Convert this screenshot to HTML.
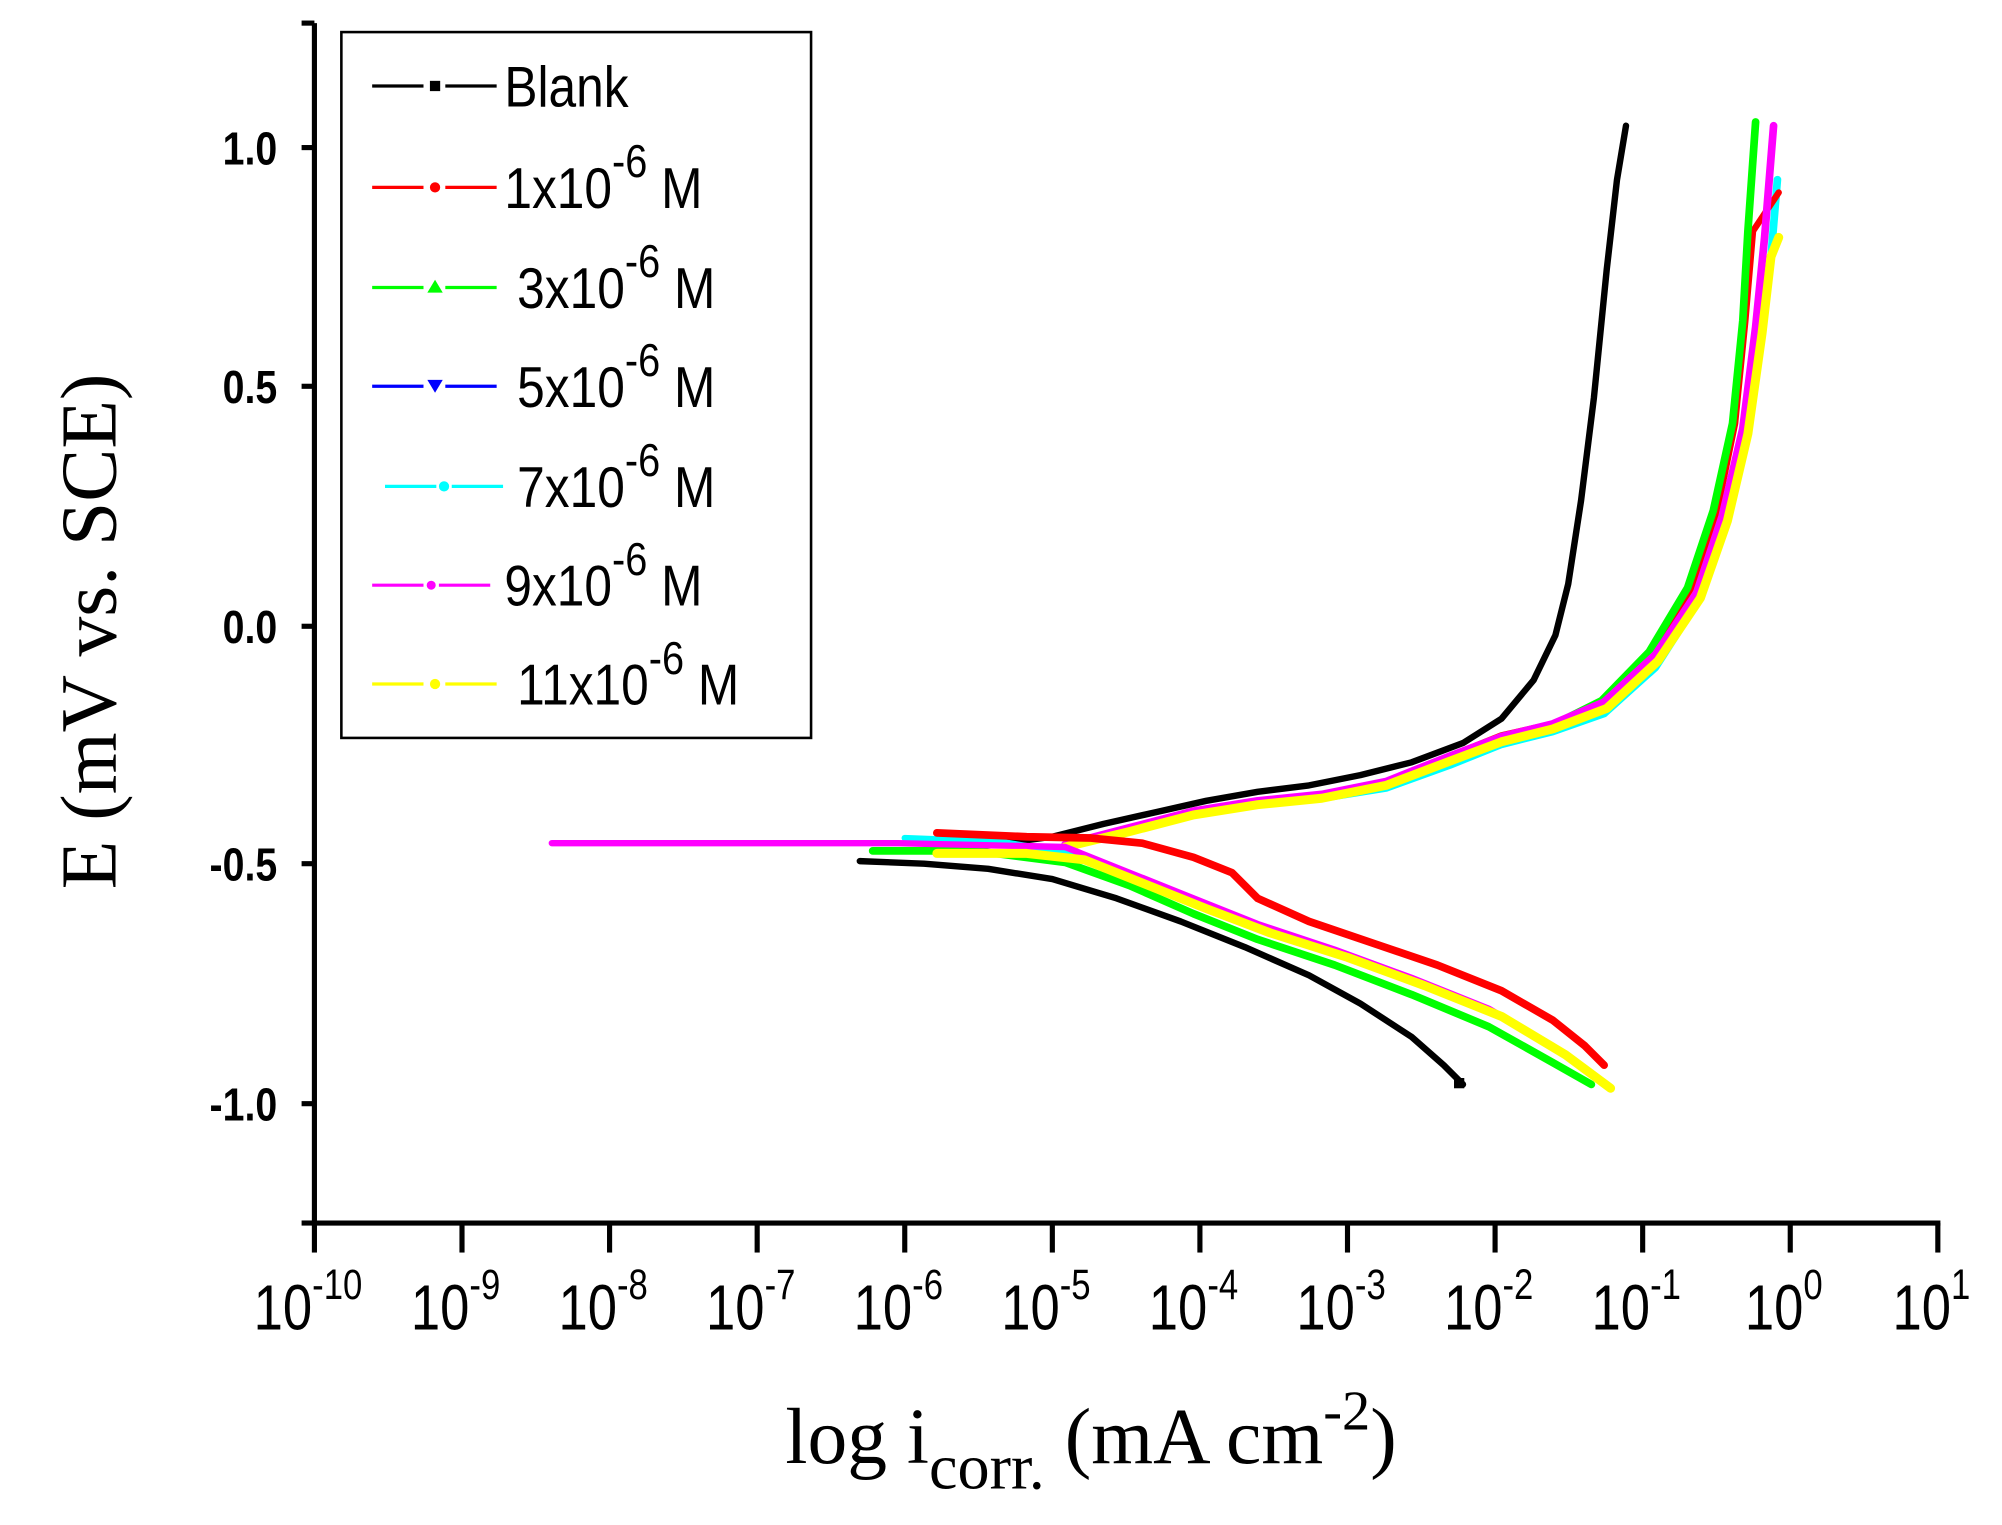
<!DOCTYPE html>
<html><head><meta charset="utf-8"><style>
html,body{margin:0;padding:0;background:#fff;}
svg{display:block;}
.t{font-family:"Liberation Sans",Arial,sans-serif;}
.tb{font-family:"Liberation Sans",Arial,sans-serif;font-weight:bold;font-size:36px;}
.s{font-family:"Liberation Serif","Times New Roman",serif;font-size:62px;}
</style></head><body>
<svg width="2002" height="1525" viewBox="0 0 1560 1188.3" preserveAspectRatio="none" xmlns="http://www.w3.org/2000/svg">
<rect width="1560" height="1189" fill="#fff"/>
<g stroke="#000" stroke-width="4" fill="none">
<line x1="245" y1="18" x2="245" y2="955"/>
<line x1="243" y1="953" x2="1512" y2="953"/>
<line x1="235" y1="18" x2="245" y2="18"/>
<line x1="235" y1="115" x2="245" y2="115"/>
<line x1="235" y1="301" x2="245" y2="301"/>
<line x1="235" y1="488" x2="245" y2="488"/>
<line x1="235" y1="673" x2="245" y2="673"/>
<line x1="235" y1="860" x2="245" y2="860"/>
<line x1="235" y1="953" x2="245" y2="953"/>
<g>
<line x1="245" y1="953" x2="245" y2="976"/><line x1="360" y1="953" x2="360" y2="976"/><line x1="475" y1="953" x2="475" y2="976"/><line x1="590" y1="953" x2="590" y2="976"/><line x1="705" y1="953" x2="705" y2="976"/><line x1="820" y1="953" x2="820" y2="976"/><line x1="935" y1="953" x2="935" y2="976"/><line x1="1050" y1="953" x2="1050" y2="976"/><line x1="1165" y1="953" x2="1165" y2="976"/><line x1="1280" y1="953" x2="1280" y2="976"/><line x1="1395" y1="953" x2="1395" y2="976"/><line x1="1510" y1="953" x2="1510" y2="976"/>
</g>
</g>
<g class="tb" text-anchor="end">
<text transform="translate(216,128) scale(0.85,1)">1.0</text>
<text transform="translate(216,314) scale(0.85,1)">0.5</text>
<text transform="translate(216,501) scale(0.85,1)">0.0</text>
<text transform="translate(216,686) scale(0.85,1)">-0.5</text>
<text transform="translate(216,873) scale(0.85,1)">-1.0</text>
</g>
<g class="t" font-size="50" text-anchor="middle">
<text transform="translate(240,1036) scale(0.82,1)">10<tspan font-size="33" dy="-24">-10</tspan></text>
<text transform="translate(355,1036) scale(0.82,1)">10<tspan font-size="33" dy="-24">-9</tspan></text>
<text transform="translate(470,1036) scale(0.82,1)">10<tspan font-size="33" dy="-24">-8</tspan></text>
<text transform="translate(585,1036) scale(0.82,1)">10<tspan font-size="33" dy="-24">-7</tspan></text>
<text transform="translate(700,1036) scale(0.82,1)">10<tspan font-size="33" dy="-24">-6</tspan></text>
<text transform="translate(815,1036) scale(0.82,1)">10<tspan font-size="33" dy="-24">-5</tspan></text>
<text transform="translate(930,1036) scale(0.82,1)">10<tspan font-size="33" dy="-24">-4</tspan></text>
<text transform="translate(1045,1036) scale(0.82,1)">10<tspan font-size="33" dy="-24">-3</tspan></text>
<text transform="translate(1160,1036) scale(0.82,1)">10<tspan font-size="33" dy="-24">-2</tspan></text>
<text transform="translate(1275,1036) scale(0.82,1)">10<tspan font-size="33" dy="-24">-1</tspan></text>
<text transform="translate(1390,1036) scale(0.82,1)">10<tspan font-size="33" dy="-24">0</tspan></text>
<text transform="translate(1505,1036) scale(0.82,1)">10<tspan font-size="33" dy="-24">1</tspan></text>
</g>
<text class="s" x="612" y="1140">log i<tspan font-size="50" dy="20">corr.</tspan><tspan dy="-20"> (mA cm</tspan><tspan font-size="44" dy="-26">-2</tspan><tspan dy="26">)</tspan></text>
<text class="s" transform="translate(90,492) rotate(-90)" text-anchor="middle">E  (mV vs. SCE)</text>

<g fill="none" stroke-linejoin="round" stroke-linecap="round">
<polyline stroke="#000" stroke-width="5" points="670,671 720,673 770,677 820,685 870,700 920,718 970,738 1020,760 1060,782 1100,808 1125,830 1140,845"/>
<polyline stroke="#000" stroke-width="5" points="760,660 820,652 860,642 900,633 940,624 980,617 1020,612 1060,604 1100,594 1140,579 1170,560 1195,530 1212,495 1222,455 1232,390 1242,310 1252,210 1260,140 1267,98"/>
<polyline stroke="#00ffff" stroke-width="6" points="830,658 880,646 930,634 980,626 1030,622 1080,614 1130,596 1170,580 1210,570 1250,556 1290,520 1322,470 1343,410 1360,340 1372,260 1380,200 1385,140"/>
<polyline stroke="#ff0000" stroke-width="5" points="830,658 880,645 930,632 980,624 1030,619 1080,609 1130,589 1170,573 1210,564 1250,546 1288,508 1318,458 1338,398 1352,330 1360,250 1366,180 1386,150"/>
<polyline stroke="#00ff00" stroke-width="6" points="830,659 880,646 930,633 980,625 1030,620 1080,610 1130,590 1170,574 1210,565 1248,546 1285,508 1315,458 1335,398 1350,330 1358,250 1362,180 1368,95"/>
<polyline stroke="#ff00ff" stroke-width="6" points="830,658 880,645 930,632 980,624 1030,619 1080,609 1130,589 1170,574 1210,564 1250,547 1290,510 1322,462 1342,402 1358,334 1368,255 1375,185 1382,98"/>
<polyline stroke="#ffff00" stroke-width="7" points="830,660 880,648 930,635 980,627 1030,622 1080,612 1130,593 1170,578 1210,568 1252,552 1292,515 1325,466 1346,406 1362,338 1373,260 1380,200 1386,185"/>
<polyline stroke="#00ff00" stroke-width="6" points="680,663 760,663 830,672 880,690 930,712 980,732 1040,752 1100,775 1160,800 1210,828 1240,845"/>
<polyline stroke="#00ffff" stroke-width="5" points="705,653 780,656 840,666 890,686 940,708 990,727 1050,746 1110,768 1170,792 1220,822 1255,848"/>
<polyline stroke="#ff00ff" stroke-width="5" points="430,657 700,657 830,660 880,680 930,700 980,720 1040,740 1100,762 1160,786 1210,815 1250,845"/>
<polyline stroke="#ff0000" stroke-width="6" points="730,649 800,652 850,653 890,657 930,668 960,680 980,700 1020,718 1070,735 1120,752 1170,772 1210,795 1235,815 1250,830"/>
<polyline stroke="#ffff00" stroke-width="7" points="730,665 800,665 845,670 890,688 940,708 990,727 1050,746 1110,768 1170,792 1220,822 1255,848"/>
</g>
<rect x="1133" y="840" width="8" height="8" fill="#000"/>

<rect x="266" y="25" width="366" height="550" fill="none" stroke="#000" stroke-width="2"/>
<g stroke-width="2.5">
<line x1="290" y1="67" x2="330" y2="67" stroke="#000"/><line x1="347" y1="67" x2="387" y2="67" stroke="#000"/><rect x="335" y="63" width="8" height="8" fill="#000"/>
<line x1="290" y1="146" x2="330" y2="146" stroke="#f00"/><line x1="347" y1="146" x2="387" y2="146" stroke="#f00"/><circle cx="339" cy="146" r="4" fill="#f00"/>
<line x1="290" y1="224" x2="330" y2="224" stroke="#0f0"/><line x1="347" y1="224" x2="387" y2="224" stroke="#0f0"/><polygon points="339,218 333,228 345,228" fill="#0f0"/>
<line x1="290" y1="301" x2="330" y2="301" stroke="#00f"/><line x1="347" y1="301" x2="387" y2="301" stroke="#00f"/><polygon points="333,296 345,296 339,306" fill="#00f"/>
<line x1="300" y1="379" x2="340" y2="379" stroke="#0ff"/><line x1="352" y1="379" x2="392" y2="379" stroke="#0ff"/><circle cx="346" cy="379" r="4" fill="#0ff"/>
<line x1="290" y1="456" x2="330" y2="456" stroke="#f0f"/><line x1="342" y1="456" x2="382" y2="456" stroke="#f0f"/><circle cx="336" cy="456" r="3.5" fill="#f0f"/>
<line x1="290" y1="533" x2="330" y2="533" stroke="#ff0"/><line x1="347" y1="533" x2="387" y2="533" stroke="#ff0"/><circle cx="339" cy="533" r="4" fill="#ff0"/>
</g>
<g class="t" font-size="45">
<text transform="translate(393,83) scale(0.86,1)">Blank</text>
<text transform="translate(393,162) scale(0.86,1)">1x10<tspan font-size="36" dy="-24">-6</tspan><tspan dy="24"> M</tspan></text>
<text transform="translate(403,240) scale(0.86,1)">3x10<tspan font-size="36" dy="-24">-6</tspan><tspan dy="24"> M</tspan></text>
<text transform="translate(403,317) scale(0.86,1)">5x10<tspan font-size="36" dy="-24">-6</tspan><tspan dy="24"> M</tspan></text>
<text transform="translate(403,395) scale(0.86,1)">7x10<tspan font-size="36" dy="-24">-6</tspan><tspan dy="24"> M</tspan></text>
<text transform="translate(393,472) scale(0.86,1)">9x10<tspan font-size="36" dy="-24">-6</tspan><tspan dy="24"> M</tspan></text>
<text transform="translate(403,549) scale(0.86,1)">11x10<tspan font-size="36" dy="-24">-6</tspan><tspan dy="24"> M</tspan></text>
</g>
</svg>
</body></html>
